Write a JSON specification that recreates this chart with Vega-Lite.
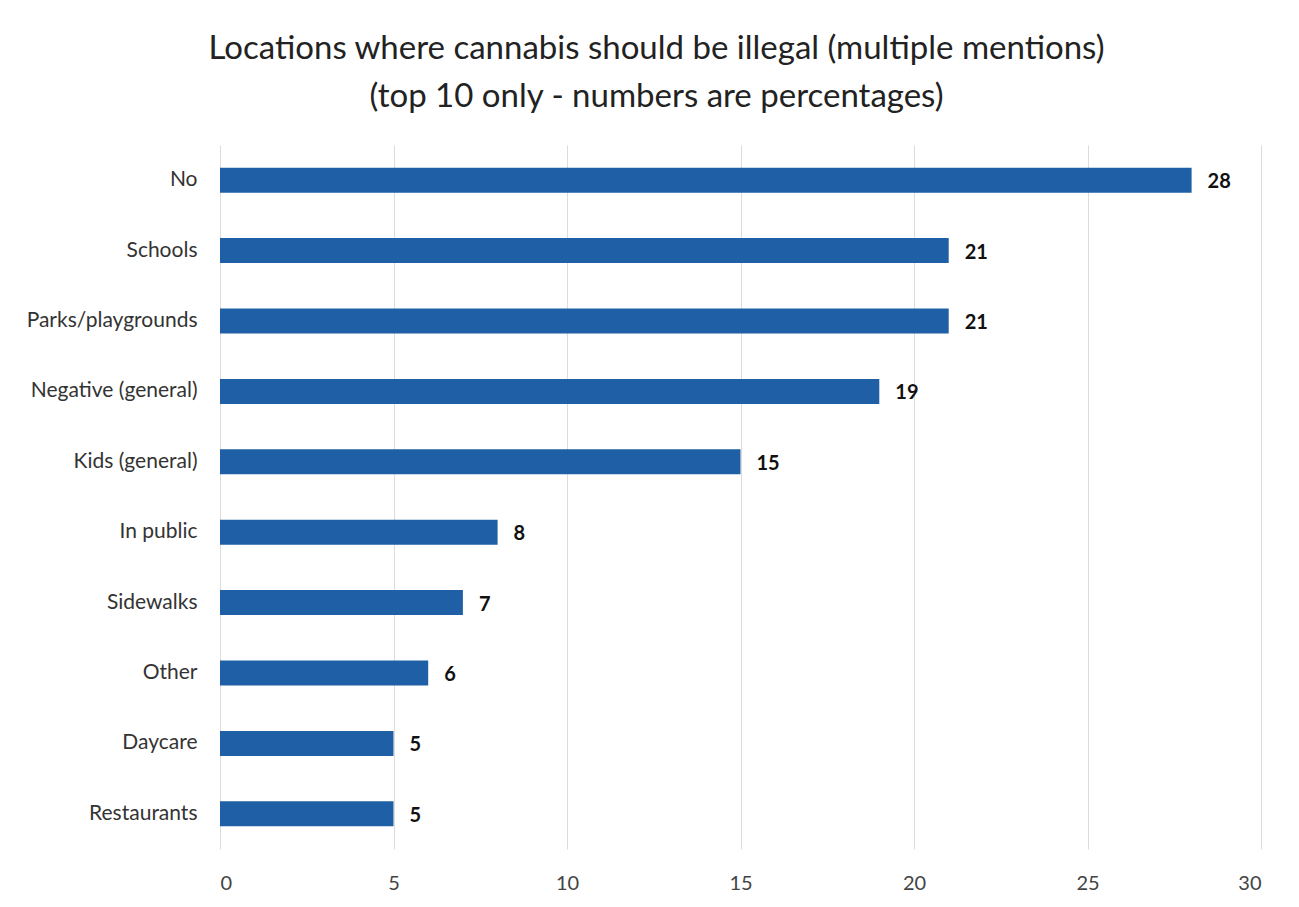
{
  "$schema": "https://vega.github.io/schema/vega-lite/v6.json",
  "autosize": "none",
  "width": 1041,
  "height": 704,
  "padding": {"left": 220, "top": 145, "right": 38, "bottom": 58},
  "background": "white",
  "title": {
    "text": ["Locations where cannabis should be illegal (multiple mentions)", "(top 10 only - numbers are percentages)"],
    "font": "Lato",
    "fontSize": 33,
    "fontWeight": "normal",
    "color": "#222222",
    "lineHeight": 48,
    "anchor": "middle",
    "dx": -84,
    "offset": 31
  },
  "config": {"view": {"stroke": null}},
  "data": {
    "values": [
      {"location": "No", "pct": 28},
      {"location": "Schools", "pct": 21},
      {"location": "Parks/playgrounds", "pct": 21},
      {"location": "Negative (general)", "pct": 19},
      {"location": "Kids (general)", "pct": 15},
      {"location": "In public", "pct": 8},
      {"location": "Sidewalks", "pct": 7},
      {"location": "Other", "pct": 6},
      {"location": "Daycare", "pct": 5},
      {"location": "Restaurants", "pct": 5}
    ]
  },
  "encoding": {
    "y": {
      "field": "location",
      "type": "nominal",
      "sort": null,
      "scale": {"paddingInner": 0.645, "paddingOuter": 0.3225},
      "axis": {
        "title": null,
        "domain": false,
        "ticks": false,
        "labelFont": "Lato",
        "labelFontSize": 21,
        "labelColor": "#333333",
        "labelPadding": 23
      }
    },
    "x": {
      "field": "pct",
      "type": "quantitative",
      "scale": {"domain": [0, 30], "nice": false},
      "axis": {
        "title": null,
        "values": [0, 5, 10, 15, 20, 25, 30],
        "domain": false,
        "ticks": false,
        "grid": true,
        "gridColor": "#dcdcdc",
        "gridWidth": 1,
        "labelFont": "Lato",
        "labelFontSize": 20,
        "labelColor": "#444444",
        "labelPadding": 24
      }
    }
  },
  "layer": [
    {"mark": {"type": "bar", "color": "#1f5fa5"}},
    {
      "mark": {"type": "text", "align": "left", "baseline": "middle", "dx": 16, "dy": 2, "font": "Lato", "fontSize": 20, "fontWeight": "bold", "color": "#111111"},
      "encoding": {"text": {"field": "pct", "type": "quantitative"}}
    }
  ]
}
